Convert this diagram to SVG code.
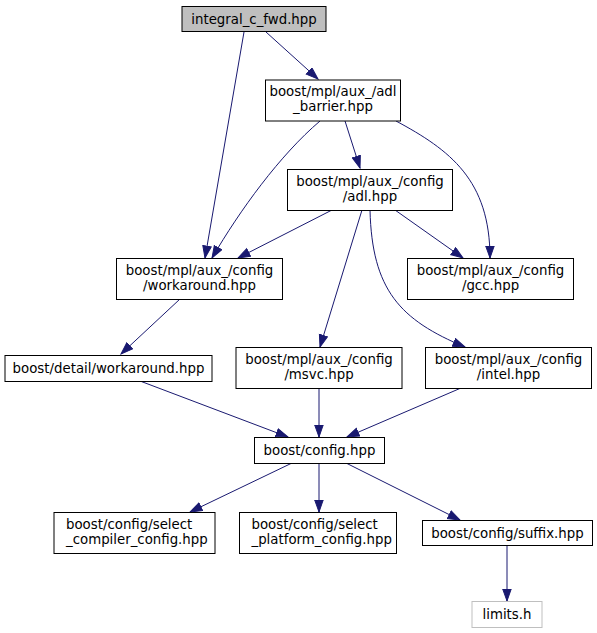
<svg xmlns="http://www.w3.org/2000/svg" width="597" height="633" viewBox="0 0 597 633">
<style>
.n rect{fill:#fff;stroke:#000;stroke-width:1}
.n.root rect{fill:#bfbfbf}
.n.ext rect{stroke:#bfbfbf}
text{font-family:"DejaVu Sans","Liberation Sans",sans-serif;font-size:13.33px;fill:#000}
.c{text-anchor:middle}
.e path{fill:none;stroke:#191970;stroke-width:1}
</style>
<defs>
<marker id="a" markerUnits="userSpaceOnUse" markerWidth="14" markerHeight="11" refX="12.5" refY="4.7" orient="auto">
<path d="M0.5,0.5 L12.5,4.7 L0.5,9 z" fill="#191970" stroke="#191970" stroke-width="1"/>
</marker>
</defs>
<rect width="597" height="633" fill="#fff"/>
<g class="e">
<path d="M244,32 L205,258" marker-end="url(#a)"/>
<path d="M266,32 L318,79" marker-end="url(#a)"/>
<path d="M320,121 C280,155 240,210 212,258" marker-end="url(#a)"/>
<path d="M345,121 L360,168" marker-end="url(#a)"/>
<path d="M396,121 C450,150 490,180 490,258" marker-end="url(#a)"/>
<path d="M332,210 L238,258" marker-end="url(#a)"/>
<path d="M395,210 L463,258" marker-end="url(#a)"/>
<path d="M362,210 L320,347" marker-end="url(#a)"/>
<path d="M370,210 C372,290 400,320 465,347" marker-end="url(#a)"/>
<path d="M180,299 L121,354" marker-end="url(#a)"/>
<path d="M140,381 L288,437" marker-end="url(#a)"/>
<path d="M319,388 L319,437" marker-end="url(#a)"/>
<path d="M461,388 L347,437" marker-end="url(#a)"/>
<path d="M292,463 L190,512" marker-end="url(#a)"/>
<path d="M319,463 L319,512" marker-end="url(#a)"/>
<path d="M346,463 L460,520" marker-end="url(#a)"/>
<path d="M507,545 L507,601" marker-end="url(#a)"/>
</g>
<g id="n_integral" class="n root"><rect x="182" y="6.5" width="144" height="25"/><text class="c" x="254" y="23.5">integral_c_fwd.hpp</text></g>
<g id="n_adl_barrier" class="n"><rect x="265.5" y="80" width="135" height="41"/><text class="c" x="333" y="96">boost/mpl/aux_/adl</text><text class="c" x="333" y="111">_barrier.hpp</text></g>
<g id="n_adl" class="n"><rect x="287.5" y="169.5" width="165" height="41"/><text class="c" x="370" y="185.5">boost/mpl/aux_/config</text><text class="c" x="370" y="200.5">/adl.hpp</text></g>
<g id="n_cfg_workaround" class="n"><rect x="116.5" y="258.5" width="166" height="41"/><text class="c" x="199.5" y="274.5">boost/mpl/aux_/config</text><text class="c" x="199.5" y="289.5">/workaround.hpp</text></g>
<g id="n_gcc" class="n"><rect x="407.5" y="258.5" width="166" height="41"/><text class="c" x="490.5" y="274.5">boost/mpl/aux_/config</text><text class="c" x="490.5" y="289.5">/gcc.hpp</text></g>
<g id="n_detail_workaround" class="n"><rect x="5" y="355.5" width="207" height="26"/><text class="c" x="108.5" y="373">boost/detail/workaround.hpp</text></g>
<g id="n_msvc" class="n"><rect x="236" y="347.5" width="166" height="41"/><text class="c" x="319" y="363.5">boost/mpl/aux_/config</text><text class="c" x="319" y="378.5">/msvc.hpp</text></g>
<g id="n_intel" class="n"><rect x="425.5" y="347.5" width="166" height="41"/><text class="c" x="508.5" y="363.5">boost/mpl/aux_/config</text><text class="c" x="508.5" y="378.5">/intel.hpp</text></g>
<g id="n_config" class="n"><rect x="254.5" y="437.5" width="130" height="26"/><text class="c" x="319.5" y="455">boost/config.hpp</text></g>
<g id="n_select_compiler" class="n"><rect x="54" y="512.5" width="161" height="41"/><text x="66" y="528.5">boost/config/select</text><text x="66" y="543.5">_compiler_config.hpp</text></g>
<g id="n_select_platform" class="n"><rect x="239.5" y="512.5" width="157" height="41"/><text x="251.5" y="528.5">boost/config/select</text><text x="251.5" y="543.5">_platform_config.hpp</text></g>
<g id="n_suffix" class="n"><rect x="422.5" y="520.5" width="170" height="25"/><text class="c" x="507.5" y="537.5">boost/config/suffix.hpp</text></g>
<g id="n_limits" class="n ext"><rect x="472" y="601.5" width="70" height="26"/><text class="c" x="507" y="619">limits.h</text></g>
</svg>
